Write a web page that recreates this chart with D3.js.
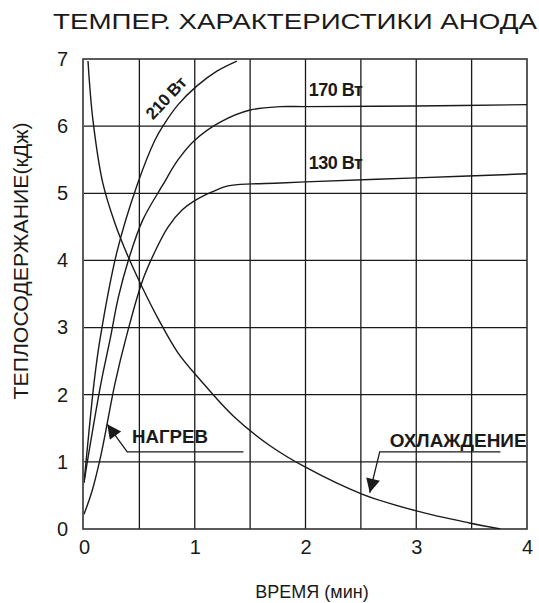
<!DOCTYPE html>
<html>
<head>
<meta charset="utf-8">
<script src="https://cdn.jsdelivr.net/npm/d3@7/dist/d3.min.js"></script>
<style>
  body { margin: 0; background: #fff; }
  text { font-family: "Liberation Sans", Arial, sans-serif; fill: #1a1a1a; }
</style>
</head>
<body>
<script>
// chart text
const title = "ТЕМПЕР. ХАРАКТЕРИСТИКИ АНОДА";
const xTitle = "ВРЕМЯ (мин)";
const yTitle = "ТЕПЛОСОДЕРЖАНИЕ(кДж)";

// ticks
const timeTicks = [0, 1, 2, 3, 4];
const heatTicks = [0, 1, 2, 3, 4, 5, 6, 7];

// series: [time (min), heat content (kJ)]
const heat210 = [[0, 0.69], [0.03, 1.20], [0.09, 2.17], [0.144, 2.82], [0.298, 4.13],
  [0.479, 5.12], [0.64, 5.79], [0.72, 6.02], [0.85, 6.32], [1.02, 6.60], [1.2, 6.82],
  [1.38, 6.97]];
const heat170 = [[0, 0.69], [0.04, 1.10], [0.153, 2.17], [0.235, 2.82], [0.31, 3.45],
  [0.40, 4.00], [0.53, 4.60], [0.71, 5.12], [0.85, 5.50], [1.0, 5.79], [1.23, 6.06],
  [1.5, 6.24], [1.77, 6.29], [2.0, 6.29], [3.0, 6.30], [4.0, 6.32]];
const heat130 = [[0, 0.22], [0.07, 0.55], [0.153, 1.10], [0.28, 2.17], [0.38, 2.85],
  [0.524, 3.68], [0.64, 4.13], [0.76, 4.50], [0.885, 4.75], [1.0, 4.89], [1.156, 5.02],
  [1.30, 5.11], [1.517, 5.14], [1.72, 5.15], [2.0, 5.17], [3.0, 5.23], [4.0, 5.29]];
const cooling = [[0.036, 6.97], [0.08, 6.10], [0.17, 5.15], [0.28, 4.55], [0.40, 4.05],
  [0.52, 3.62], [0.68, 3.10], [0.85, 2.62], [1.05, 2.22], [1.35, 1.68], [1.68, 1.24],
  [2.0, 0.92], [2.51, 0.52], [3.0, 0.27], [3.48, 0.09], [3.76, 0.0]];

// curve labels and pointers, in chart units
const curveLabels = [
  { text: "210 Вт", t: 0.74, q: 6.42, angle: -47, size: 17 },
  { text: "170 Вт", t: 2.03, q: 6.45, angle: 0, size: 18 },
  { text: "130 Вт", t: 2.03, q: 5.36, angle: 0, size: 18 }
];
const notes = [
  { text: "НАГРЕВ", t: 0.433, q: 1.28, len: 76,
    arrow: [[1.44, 1.15], [0.39, 1.15], [0.21, 1.56]] },
  { text: "ОХЛАЖДЕНИЕ", t: 2.76, q: 1.22, len: 137,
    arrow: [[3.76, 1.15], [2.67, 1.15], [2.58, 0.54]] }
];

const width = 539, height = 603;

const svg = d3.select("body").append("svg")
  .attr("width", width)
  .attr("height", height);

const x = d3.scaleLinear().domain([0, 4]).range([84, 527]);
const y = d3.scaleLinear().domain([0, 7]).range([529, 59]);

const ink = "#1a1a1a";

svg.append("defs").append("clipPath").attr("id", "plot")
  .append("rect")
  .attr("x", x(0)).attr("y", y(7))
  .attr("width", x(4) - x(0)).attr("height", y(0) - y(7));

svg.select("defs").append("marker")
  .attr("id", "head")
  .attr("markerUnits", "userSpaceOnUse")
  .attr("viewBox", "0 0 10 10")
  .attr("refX", 10).attr("refY", 5)
  .attr("markerWidth", 17).attr("markerHeight", 14)
  .attr("orient", "auto")
  .append("path")
  .attr("d", "M0,0L10,5L0,10z")
  .attr("fill", ink);

// grid
const grid = svg.append("g")
  .attr("stroke", ink)
  .attr("stroke-width", 1.3);

grid.selectAll(".vg")
  .data(d3.range(0.5, 4, 0.5))
  .enter().append("line")
  .attr("x1", d => x(d)).attr("x2", d => x(d))
  .attr("y1", y(7)).attr("y2", y(0));

grid.selectAll(".hg")
  .data(heatTicks.slice(1, -1))
  .enter().append("line")
  .attr("x1", x(0)).attr("x2", x(4))
  .attr("y1", d => y(d)).attr("y2", d => y(d));

// frame
svg.append("rect")
  .attr("x", x(0) - 1).attr("y", y(7))
  .attr("width", x(4) - x(0) + 1).attr("height", y(0) - y(7))
  .attr("fill", "none")
  .attr("stroke", "#333")
  .attr("stroke-width", 1.6);

// curves
const line = d3.line()
  .x(d => x(d[0]))
  .y(d => y(d[1]))
  .curve(d3.curveCatmullRom.alpha(0.5));

svg.append("g")
  .attr("clip-path", "url(#plot)")
  .selectAll("path")
  .data([heat210, heat170, heat130, cooling])
  .enter().append("path")
  .attr("d", line)
  .attr("fill", "none")
  .attr("stroke", ink)
  .attr("stroke-width", 1.4);

// axes
const yAxis = svg.append("g")
  .attr("transform", "translate(" + x(0) + ",0)")
  .call(d3.axisLeft(y).tickValues(heatTicks).tickFormat(d3.format("d"))
    .tickSize(0).tickPadding(16));

const xAxis = svg.append("g")
  .attr("transform", "translate(0," + y(0) + ")")
  .call(d3.axisBottom(x).tickValues(timeTicks).tickFormat(d3.format("d"))
    .tickSize(0).tickPadding(11));

[yAxis, xAxis].forEach(function (a) {
  a.select(".domain").remove();
  a.selectAll("text")
    .attr("font-family", "Liberation Sans, Arial, sans-serif")
    .attr("font-size", 20)
    .attr("fill", ink);
});

// titles
svg.append("text")
  .attr("x", 53).attr("y", 29)
  .attr("font-size", 22)
  .attr("textLength", 484)
  .attr("lengthAdjust", "spacingAndGlyphs")
  .text(title);

svg.append("text")
  .attr("transform", "translate(28,261) rotate(-90)")
  .attr("text-anchor", "middle")
  .attr("font-size", 20)
  .attr("textLength", 277)
  .attr("lengthAdjust", "spacingAndGlyphs")
  .text(yTitle);

svg.append("text")
  .attr("x", 312).attr("y", 598)
  .attr("text-anchor", "middle")
  .attr("font-size", 18)
  .text(xTitle);

// curve labels
svg.selectAll(".clabel")
  .data(curveLabels)
  .enter().append("text")
  .attr("transform", d => "translate(" + x(d.t) + "," + y(d.q) + ") rotate(" + d.angle + ")")
  .attr("text-anchor", d => d.angle ? "middle" : "start")
  .attr("dy", d => d.angle ? "0.35em" : 0)
  .attr("font-size", d => d.size)
  .attr("font-weight", "bold")
  .attr("letter-spacing", -0.5)
  .text(d => d.text);

// heating / cooling pointers
const noteLine = d3.line().x(d => x(d[0])).y(d => y(d[1]));

svg.selectAll(".arrow")
  .data(notes)
  .enter().append("path")
  .attr("d", d => noteLine(d.arrow))
  .attr("fill", "none")
  .attr("stroke", ink)
  .attr("stroke-width", 1.3)
  .attr("marker-end", "url(#head)");

svg.selectAll(".note")
  .data(notes)
  .enter().append("text")
  .attr("x", d => x(d.t)).attr("y", d => y(d.q))
  .attr("font-size", 18)
  .attr("font-weight", "bold")
  .attr("textLength", d => d.len)
  .attr("lengthAdjust", "spacingAndGlyphs")
  .text(d => d.text);
</script>
</body>
</html>
